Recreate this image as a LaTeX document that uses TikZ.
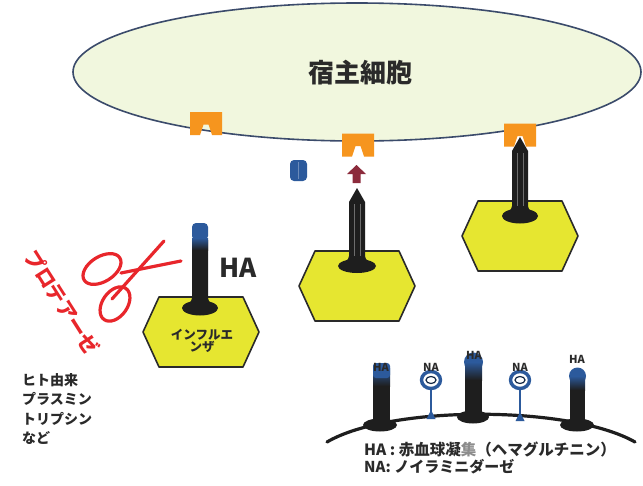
\documentclass[tikz,border=0pt]{standalone}
\usepackage{fontspec}
\setmainfont{Noto Sans CJK JP}
\usetikzlibrary{calc}

\definecolor{cellfill}{HTML}{F1F7DE}
\definecolor{cellline}{HTML}{3B4B6B}
\definecolor{recorange}{HTML}{F6951E}
\definecolor{hablue}{HTML}{2C5A9C}
\definecolor{arrowred}{HTML}{8C2B3C}
\definecolor{virusyellow}{HTML}{E6E630}
\definecolor{scissred}{HTML}{E8262B}
\definecolor{spikeblack}{HTML}{1E1E1E}
\definecolor{txtdark}{HTML}{2A2A2A}

\tikzset{
  receptor/.pic={
    \fill[recorange] (-16,-11.5) -- (16,-11.5) -- (16,11.5) -- (6,11.5)
      -- (2.5,1) -- (-2.5,1) -- (-6,11.5) -- (-16,11.5) -- cycle;
  },
  hexcell/.pic={
    \filldraw[fill=virusyellow, draw=txtdark, line width=1.6pt, line join=round]
      (-58,0) -- (-42,-35) -- (42,-35) -- (58,0) -- (42,35) -- (-42,35) -- cycle;
  },
  jptext/.style={text=txtdark, inner sep=0pt},
}
\newcommand{\jpsize}[2]{\bfseries\fontsize{#1}{#2}\selectfont}

\begin{document}
\begin{tikzpicture}[x=1pt,y=-1pt]
\useasboundingbox[fill=white] (0,0) rectangle (643,485);

% host cell
\filldraw[fill=cellfill, draw=cellline, line width=1.6pt] (357,72) ellipse [x radius=284, y radius=69];
\node[jptext, font=\jpsize{26}{30}] (host) at (360,73) {宿主細胞};

% receptors on the cell surface
\pic at (206,123.5) {receptor};
\pic at (358,145) {receptor};
\pic at (520,135) {receptor};

% virus particles
\pic at (201,332) {hexcell};
\pic at (357,286) {hexcell};
\pic at (520,236) {hexcell};

% left particle: intact HA spike
\fill[spikeblack] (200,308) ellipse [x radius=18, y radius=7.5];
\fill[spikeblack] (192,240) -- (192,298) .. controls (192,303) and (186,304) .. (184,306)
  -- (216,306) .. controls (214,304) and (208,303) .. (208,298) -- (208,240) -- cycle;
\fill[hablue, rounded corners=4pt] (192,240) -- (192,223) -- (208,223) -- (208,240) -- cycle;
\shade[top color=hablue, bottom color=spikeblack] (192,238) rectangle (208,250);
\node[jptext, font=\jpsize{26}{30}] (ha) at (238,268) {HA};
\node[jptext, font=\jpsize{12.5}{14}, align=center] (flu) at (202,341)
  {インフルエ\\[-1.5pt]ンザ};

% centre particle: cleaved HA, pointed spike
\fill[spikeblack] (357,266) ellipse [x radius=19, y radius=7];
\fill[spikeblack] (357,188) -- (365,202) -- (365,256) .. controls (365,261) and (371,262) .. (374,264)
  -- (340,264) .. controls (343,262) and (349,261) .. (349,256) -- (349,202) -- cycle;
\draw[white!35!spikeblack, line width=0.6pt] (354,204) -- (354,256);
\draw[white!35!spikeblack, line width=0.6pt] (360,204) -- (360,256);

% detached HA head
\fill[hablue, rounded corners=4pt] (290,160) rectangle (307,181);
\draw[white!30!hablue, line width=0.5pt] (298.5,162) -- (298.5,179);

% arrow towards the receptor
\fill[arrowred] (356.5,165) -- (366,174) -- (360.5,174) -- (360.5,183) -- (352.5,183) -- (352.5,174) -- (347,174) -- cycle;

% right particle: spike bound to the receptor
\fill[spikeblack] (520,216) ellipse [x radius=18, y radius=7.5];
\fill[spikeblack] (520,137) -- (528,151) -- (528,206) .. controls (528,211) and (534,212) .. (537,214)
  -- (503,214) .. controls (506,212) and (512,211) .. (512,206) -- (512,151) -- cycle;
\draw[white!35!spikeblack, line width=0.6pt] (517,153) -- (517,206);
\draw[white!35!spikeblack, line width=0.6pt] (523,153) -- (523,206);

% scissors (protease)
\begin{scope}[scissred, line width=3.2pt, line cap=round]
  \draw (102,269) ellipse [x radius=21, y radius=12.5, rotate=32];
  \draw (115,304) ellipse [x radius=19, y radius=12.5, rotate=55];
  \draw (112,299) -- (164,241);
  \draw (121,273) -- (181,261);
\end{scope}
\node[text=scissred, inner sep=0pt, font=\jpsize{20}{22}, rotate=-57.5] (protease) at (62,302) {プロテアーゼ};

\node[jptext, font=\jpsize{14}{19.5}, align=left, anchor=north west] (enz) at (22,373)
  {ヒト由来\\プラスミン\\トリプシン\\など};

% envelope detail: HA and NA on the membrane
\fill[spikeblack] (380,425) ellipse [x radius=17, y radius=6.5];
\fill[spikeblack] (473,417) ellipse [x radius=16, y radius=6.5];
\fill[spikeblack] (577,425) ellipse [x radius=17, y radius=6.5];
\fill[spikeblack] (373,372) rectangle (390,423);
\fill[spikeblack] (465,362) rectangle (482,415);
\fill[spikeblack] (570,372) rectangle (585,423);
\shade[top color=hablue, bottom color=spikeblack] (373,368) rectangle (390,386);
\fill[hablue, rounded corners=3pt] (373,363) rectangle (390,378);
\fill[hablue] (473.5,362) circle [radius=9.5];
\shade[top color=hablue, bottom color=spikeblack] (465,362) rectangle (482,380);
\fill[hablue] (577.5,376) circle [radius=8.5];
\shade[top color=hablue, bottom color=spikeblack] (570,376) rectangle (585,390);

\draw[spikeblack, line width=3.2pt, line cap=round] (327,442) .. controls (390,405) and (570,405) .. (635,442);

% neuraminidase stalks
\begin{scope}[hablue]
  \draw[line width=2.8pt] (431,389) -- (431,414);
  \fill (426.5,419) -- (435.5,419) -- (431,410) -- cycle;
  \filldraw[fill=white, line width=3.4pt] (431,380) ellipse [x radius=9.5, y radius=8.5];
  \draw[line width=1.2pt, black!55!hablue] (431,380) ellipse [x radius=5, y radius=3.5];
  \draw[line width=2.8pt] (520,389) -- (520,416);
  \fill (515.5,421) -- (524.5,421) -- (520,412) -- cycle;
  \filldraw[fill=white, line width=3.4pt] (520,380) ellipse [x radius=9.5, y radius=8.5];
  \draw[line width=1.2pt, black!55!hablue] (520,380) ellipse [x radius=5, y radius=3.5];
\end{scope}

\tikzset{small/.style={jptext, font=\jpsize{11}{12}}}
\node[small] (ha1) at (381,367) {HA};
\node[small] (ha2) at (474,355) {HA};
\node[small] (ha3) at (577,359) {HA};
\node[small] (na1) at (431,367) {NA};
\node[small] (na2) at (520,367) {NA};

\node[jptext, font=\jpsize{15.5}{17}, anchor=west] (legha) at (364,449)
  {HA : 赤血球凝{\color{black!45}集}（ヘマグルチニン）};
\node[jptext, font=\jpsize{15}{17}, anchor=west] (legna) at (364,467)
  {NA: ノイラミニダーゼ};
\end{tikzpicture}
\end{document}
